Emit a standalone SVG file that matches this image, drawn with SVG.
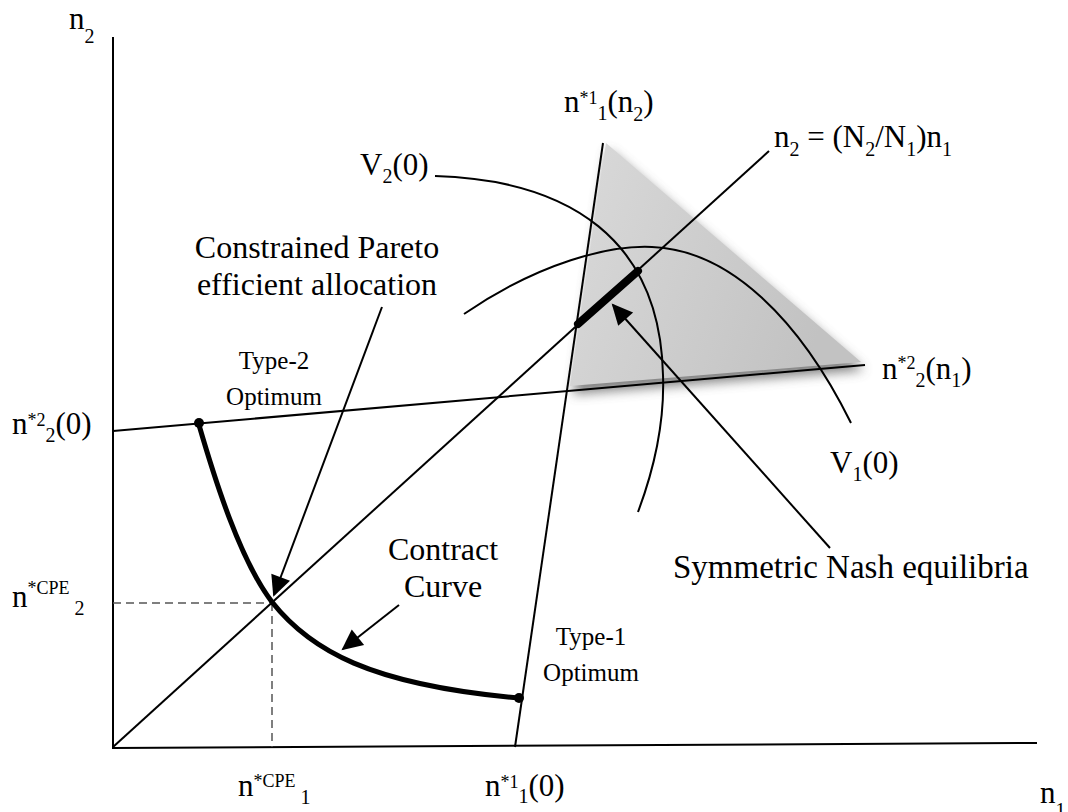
<svg xmlns="http://www.w3.org/2000/svg" width="1068" height="812" viewBox="0 0 1068 812">
<style>
text{font-family:"Liberation Serif","Times New Roman",serif;fill:#000}
.m{font-size:31px}
.lbl{font-size:32px;text-anchor:middle}
.sm{font-size:25px;text-anchor:middle}
.sup{font-size:18px}
.sub{font-size:20px}
.ln{stroke:#000;stroke-width:2;fill:none}
.dash{stroke:#555;stroke-width:1.5;stroke-dasharray:8 5;fill:none}
.arr{stroke:#000;stroke-width:2;fill:none;marker-end:url(#ah)}
</style>
<defs>
<marker id="ah" markerUnits="userSpaceOnUse" markerWidth="22" markerHeight="20" refX="19" refY="10" orient="auto" overflow="visible">
<path d="M0,0 L21,10 L0,20 Z" fill="#000"/>
</marker>
<linearGradient id="tg" x1="0" y1="0" x2="1" y2="0.3">
<stop offset="0" stop-color="#dadada"/>
<stop offset="1" stop-color="#c2c2c2"/>
</linearGradient>
<filter id="blur" x="-20%" y="-20%" width="140%" height="140%">
<feGaussianBlur stdDeviation="6"/>
</filter>
</defs>

<g id="shaded-region">
<polygon points="608,150 573,394 864,370" fill="#555" opacity="0.75" filter="url(#blur)"/>
<polygon points="606,143 570,386 861,362" fill="url(#tg)"/>
</g>

<g id="connectors">
<line id="axis-y" class="ln" x1="113" y1="37" x2="113" y2="748"/>
<line id="axis-x" class="ln" x1="112" y1="748" x2="1037" y2="743"/>
<line id="diagonal" class="ln" x1="113" y1="747" x2="769" y2="151"/>
<line id="n1-best-response" class="ln" x1="515" y1="747" x2="603" y2="143"/>
<line id="n2-best-response" class="ln" x1="113" y1="431" x2="865" y2="365"/>
<line class="dash" x1="113" y1="603" x2="272" y2="603"/>
<line class="dash" x1="272" y1="603" x2="272" y2="747"/>
<path id="V2-curve" class="ln" d="M435,176 C570,180 660,240 663,375 C665,430 650,480 638,512"/>
<path id="V1-curve" class="ln" d="M464,314 C540,262 610,245 652,247 C730,250 800,320 851,423"/>
<path id="contract-curve" d="M199,425 C215,480 240,560 272,602 C310,650 370,685 519,698" stroke="#000" stroke-width="5" fill="none"/>
<line id="nash-segment" x1="578" y1="324" x2="638" y2="271" stroke="#000" stroke-width="8" stroke-linecap="round"/>
<line class="arr" x1="382" y1="307" x2="274" y2="595"/>
<line class="arr" x1="399" y1="605" x2="343" y2="649"/>
<line class="arr" x1="830" y1="548" x2="613" y2="305"/>
</g>

<g id="type2-point"><circle cx="199" cy="423" r="5" fill="#000"/></g>
<g id="type1-point"><circle cx="519" cy="698" r="5" fill="#000"/></g>

<g id="labels">
<text class="m" x="69" y="29">n<tspan class="sub" dy="14">2</tspan></text>
<text class="m" x="1040" y="803">n<tspan class="sub" dy="14">1</tspan></text>
<text class="m" x="564" y="112">n<tspan class="sup" dy="-8">*1</tspan><tspan class="sub" dy="16">1</tspan><tspan dy="-8">(n</tspan><tspan class="sub" dy="9">2</tspan><tspan dy="-9">)</tspan></text>
<text class="m" x="774" y="147">n<tspan class="sub" dy="9">2</tspan><tspan dy="-9"> = (N</tspan><tspan class="sub" dy="9">2</tspan><tspan dy="-9">/N</tspan><tspan class="sub" dy="9">1</tspan><tspan dy="-9">)n</tspan><tspan class="sub" dy="9">1</tspan></text>
<text class="m" x="360" y="175">V<tspan class="sub" dy="8">2</tspan><tspan dy="-8">(0)</tspan></text>
<text class="m" x="882" y="379">n<tspan class="sup" dy="-10">*2</tspan><tspan class="sub" dy="18">2</tspan><tspan dy="-8">(n</tspan><tspan class="sub" dy="8">1</tspan><tspan dy="-8">)</tspan></text>
<text class="m" x="830" y="473">V<tspan class="sub" dy="8">1</tspan><tspan dy="-8">(0)</tspan></text>
<text class="m" x="12" y="434">n<tspan class="sup" dy="-8">*2</tspan><tspan class="sub" dy="16">2</tspan><tspan dy="-8">(0)</tspan></text>
<text class="m" x="12" y="607">n<tspan class="sup" dy="-13">*CPE</tspan><tspan class="sub" dy="21"> 2</tspan></text>
<text class="m" x="238" y="796">n<tspan class="sup" dy="-9">*CPE</tspan><tspan class="sub" dy="17"> 1</tspan></text>
<text class="m" x="485" y="796">n<tspan class="sup" dy="-8">*1</tspan><tspan class="sub" dy="15">1</tspan><tspan dy="-7">(0)</tspan></text>
<text class="lbl" x="317" y="258">Constrained Pareto</text>
<text class="lbl" x="317" y="295">efficient allocation</text>
<text class="sm" x="274" y="369">Type-2</text>
<text class="sm" x="274" y="405">Optimum</text>
<text class="lbl" x="443" y="560">Contract</text>
<text class="lbl" x="443" y="597">Curve</text>
<text class="sm" x="591" y="645">Type-1</text>
<text class="sm" x="591" y="681">Optimum</text>
<text x="673" y="578" style="font-size:33px">Symmetric Nash equilibria</text>
</g>
</svg>
